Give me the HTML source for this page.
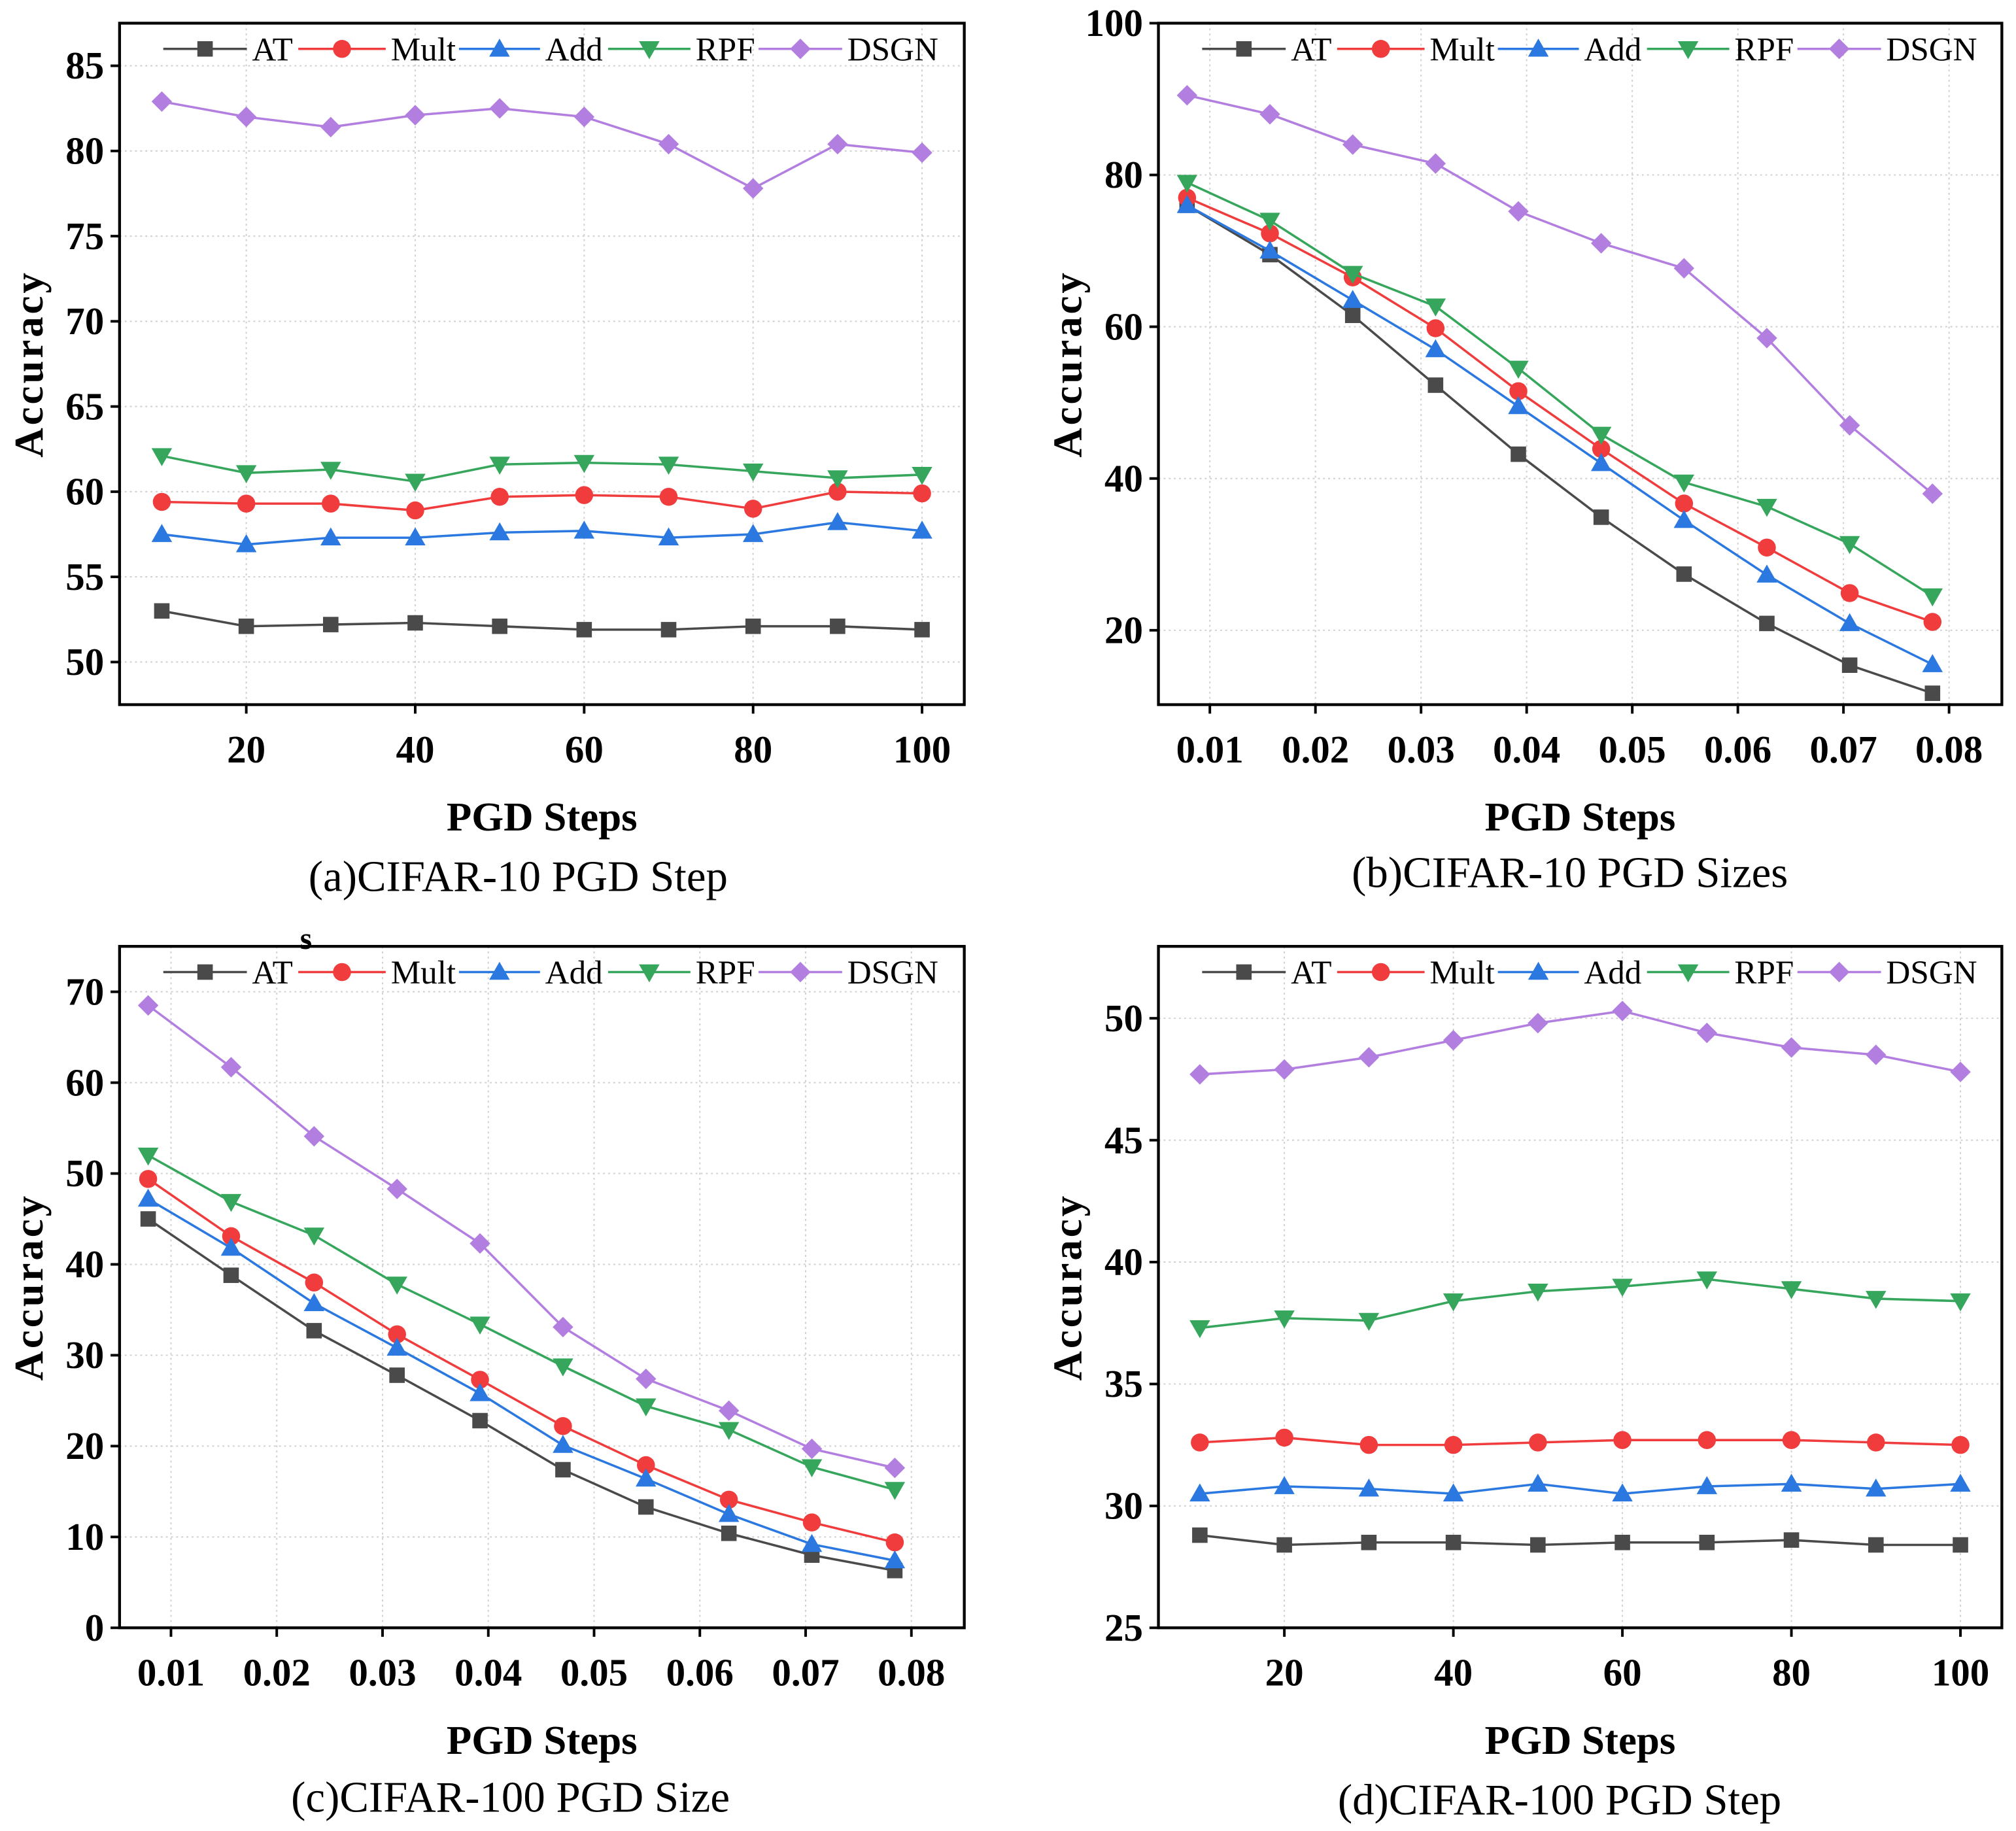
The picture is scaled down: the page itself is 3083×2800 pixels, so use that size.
<!DOCTYPE html>
<html><head><meta charset="utf-8"><style>
html,body{margin:0;padding:0;background:#fff;}
svg{display:block;}
text{font-family:"Liberation Serif",serif;}
</style></head>
<body>
<svg id="fig" xmlns="http://www.w3.org/2000/svg" width="3083" height="2800" viewBox="0 0 1568 1424"></svg>
<script>
const seriesNames = ["AT","Mult","Add","RPF","DSGN"];
const seriesColors = ["#4a4a4a","#f03c3c","#2a78e0","#35a65c","#b27fe0"];
const stepsX = [10,20,30,40,50,60,70,80,90,100];
const sizeX = [2/255,4/255,6/255,8/255,10/255,12/255,14/255,16/255,18/255,20/255];
const stepTicks = [20,40,60,80,100];
const sizeTicks = [0.01,0.02,0.03,0.04,0.05,0.06,0.07,0.08];
const sizeTickLabels = ["0.01","0.02","0.03","0.04","0.05","0.06","0.07","0.08"];

const aAT   = [53,52.1,52.2,52.3,52.1,51.9,51.9,52.1,52.1,51.9];
const aMult = [59.4,59.3,59.3,58.9,59.7,59.8,59.7,59.0,60.0,59.9];
const aAdd  = [57.5,56.9,57.3,57.3,57.6,57.7,57.3,57.5,58.2,57.7];
const aRPF  = [62.1,61.1,61.3,60.6,61.6,61.7,61.6,61.2,60.8,61.0];
const aDSGN = [82.9,82.0,81.4,82.1,82.5,82.0,80.4,77.8,80.4,79.9];
const aYTicks = [50,55,60,65,70,75,80,85];

const bAT   = [76,69.5,61.5,52.3,43.2,34.9,27.4,20.9,15.4,11.7];
const bMult = [77,72.3,66.5,59.8,51.5,43.9,36.7,30.9,24.9,21.1];
const bAdd  = [76,70,63.5,57,49.5,42,34.5,27.3,20.9,15.5];
const bRPF  = [79,74,67,62.7,54.5,45.8,39.5,36.3,31.4,24.5];
const bDSGN = [90.5,88,84,81.5,75.2,71,67.7,58.5,47,38];
const bYTicks = [20,40,60,80,100];

const cAT   = [45,38.8,32.7,27.8,22.8,17.4,13.3,10.4,8,6.3];
const cMult = [49.4,43.1,38,32.3,27.3,22.2,17.9,14.1,11.6,9.4];
const cAdd  = [47.2,41.8,35.7,30.8,25.8,20.1,16.4,12.5,9.2,7.4];
const cRPF  = [52,46.9,43.2,37.8,33.4,28.8,24.4,21.8,17.7,15.2];
const cDSGN = [68.5,61.7,54.1,48.3,42.3,33.1,27.4,23.9,19.7,17.6];
const cYTicks = [0,10,20,30,40,50,60,70];

const dAT   = [28.8,28.4,28.5,28.5,28.4,28.5,28.5,28.6,28.4,28.4];
const dMult = [32.6,32.8,32.5,32.5,32.6,32.7,32.7,32.7,32.6,32.5];
const dAdd  = [30.5,30.8,30.7,30.5,30.9,30.5,30.8,30.9,30.7,30.9];
const dRPF  = [37.3,37.7,37.6,38.4,38.8,39.0,39.3,38.9,38.5,38.4];
const dDSGN = [47.7,47.9,48.4,49.1,49.8,50.3,49.4,48.8,48.5,47.8];
const dYTicks = [25,30,35,40,45,50];

const NS = "http://www.w3.org/2000/svg";
const svg = document.getElementById("fig");
function mk(tag, attrs, parent){
  const e = document.createElementNS(NS, tag);
  for (const k in attrs) e.setAttribute(k, attrs[k]);
  (parent||svg).appendChild(e);
  return e;
}
function marker(g, i, cx, cy, col){
  let m;
  if (i===0) m = mk("rect",{x:cx-6,y:cy-6,width:12,height:12,fill:col},g);
  else if (i===1) m = mk("circle",{cx:cx,cy:cy,r:7,fill:col},g);
  else if (i===2) m = mk("polygon",{points:`${cx},${cy-8} ${cx+8},${cy+6} ${cx-8},${cy+6}`,fill:col},g);
  else if (i===3) m = mk("polygon",{points:`${cx-8},${cy-6} ${cx+8},${cy-6} ${cx},${cy+8}`,fill:col},g);
  else m = mk("polygon",{points:`${cx},${cy-8} ${cx+8},${cy} ${cx},${cy+8} ${cx-8},${cy}`,fill:col},g);
  return m;
}

function panel(o){
  const g = mk("g",{});
  
  
  const L=o.box[0], R=o.box[1], T=o.box[2], B=o.box[3];
  const xs = v => L + (v-o.xd[0])/(o.xd[1]-o.xd[0])*(R-L);
  const ys = v => B - (v-o.yd[0])/(o.yd[1]-o.yd[0])*(B-T);
  o.yTicks.forEach(t=>{
    const gl = mk("line",{x1:L,x2:R,y1:ys(t),y2:ys(t),stroke:"#d0d0d0","stroke-width":1,"stroke-dasharray":"1.5 2.5"},g);
    
    
  });
  o.xTicks.forEach(t=>{
    const gl = mk("line",{x1:xs(t),x2:xs(t),y1:T,y2:B,stroke:"#d0d0d0","stroke-width":1,"stroke-dasharray":"1.5 2.5"},g);
    
    
  });
  o.yTicks.forEach(t=>{
    mk("line",{x1:L-7,x2:L,y1:ys(t),y2:ys(t),stroke:"#000","stroke-width":2},g);
    const tx = mk("text",{x:L-12,y:ys(t)+10,"text-anchor":"end","font-size":30,"font-weight":"bold"},g);
    tx.textContent = t;
    
    
  });
  o.xTicks.forEach((t,k)=>{
    mk("line",{x1:xs(t),x2:xs(t),y1:B,y2:B+7,stroke:"#000","stroke-width":2},g);
    const tx = mk("text",{x:xs(t),y:B+45,"text-anchor":"middle","font-size":30,"font-weight":"bold"},g);
    tx.textContent = o.xLabels[k];
    
    
  });
  o.series.forEach((arr,i)=>{
    const sg = mk("g",{},g);
    
    
    const pts = arr.map((v,k)=>xs(o.x[k])+","+ys(v)).join(" ");
    mk("polyline",{points:pts,fill:"none",stroke:seriesColors[i],"stroke-width":1.8},sg);
    arr.forEach((v,k)=>{
      const m = marker(sg,i,xs(o.x[k]),ys(v),seriesColors[i]);
      
      
    });
  });
  const bx = mk("rect",{x:L,y:T,width:R-L,height:B-T,fill:"none",stroke:"#000","stroke-width":2.2},g);
  
  
  const lg = mk("g",{},g);
  
  
  const lx = [0,105,230,346,463];
  const lw = [65,68,63,64,65];
  const ly = T+20;
  seriesNames.forEach((n,i)=>{
    const eg = mk("g",{},lg);
    
    
    const x0 = L+34+lx[i];
    mk("line",{x1:x0,x2:x0+lw[i],y1:ly,y2:ly,stroke:seriesColors[i],"stroke-width":1.8},eg);
    marker(eg,i,x0+lw[i]/2,ly,seriesColors[i]);
    const tx = mk("text",{x:x0+lw[i]+4,y:ly+9,"font-size":26},eg);
    tx.textContent = n;
  });
  const yt = mk("text",{x:0,y:0,transform:`translate(${L-60},${(T+B)/2}) rotate(-90)`,"text-anchor":"middle","font-size":32,"font-weight":"bold","letter-spacing":"2"},g);
  yt.textContent = "Accuracy";
  
  
  const xt = mk("text",{x:(L+R)/2,y:B+98,"text-anchor":"middle","font-size":32,"font-weight":"bold"},g);
  xt.textContent = "PGD Steps";
  
  
  const cp = mk("text",{x:o.capX,y:B+o.capDy,"text-anchor":"middle","font-size":34},g);
  cp.textContent = o.caption;
  
  
}

panel({name:"chart-a", box:[93,750,18,548], xd:[5,105], yd:[47.5,87.5], x:stepsX,
  xTicks:stepTicks, xLabels:stepTicks.map(String), yTicks:aYTicks,
  series:[aAT,aMult,aAdd,aRPF,aDSGN], caption:"(a)CIFAR-10 PGD Step", capX:403, capDy:145});
panel({name:"chart-b", box:[901,1557,18,548], xd:[0.00513,0.085], yd:[10.2,100], x:sizeX,
  xTicks:sizeTicks, xLabels:sizeTickLabels, yTicks:bYTicks,
  series:[bAT,bMult,bAdd,bRPF,bDSGN], caption:"(b)CIFAR-10 PGD Sizes", capX:1221, capDy:142});
panel({name:"chart-c", box:[93,750,736,1266], xd:[0.00514,0.085], yd:[0,75], x:sizeX,
  xTicks:sizeTicks, xLabels:sizeTickLabels, yTicks:cYTicks,
  series:[cAT,cMult,cAdd,cRPF,cDSGN], caption:"(c)CIFAR-100 PGD Size", capX:397, capDy:143});
panel({name:"chart-d", box:[901,1557,736,1266], xd:[5.1,104.9], yd:[25,52.95], x:stepsX,
  xTicks:stepTicks, xLabels:stepTicks.map(String), yTicks:dYTicks,
  series:[dAT,dMult,dAdd,dRPF,dDSGN], caption:"(d)CIFAR-100 PGD Step", capX:1213, capDy:145});

const stray = mk("text",{x:238,y:738,"text-anchor":"middle","font-size":24,"font-weight":"bold"});
stray.textContent = "s";


</script>
</body></html>
